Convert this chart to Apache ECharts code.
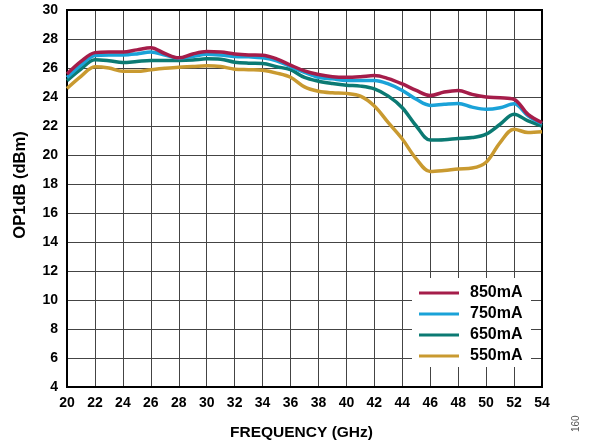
<!DOCTYPE html>
<html>
<head>
<meta charset="utf-8">
<script src="https://cdn.jsdelivr.net/npm/echarts@6/dist/echarts.min.js"></script>
<style>html,body{margin:0;padding:0;background:#fff}#c{width:591px;height:446px}</style>
</head>
<body>
<div id="c"></div>
<script>
var freq = [20,21,22,23,24,25,26,27,28,29,30,31,32,33,34,35,36,37,38,39,40,41,42,43,44,45,46,47,48,49,50,51,52,53,54];
var s850 = [25.58,26.45,27.06,27.1,27.1,27.25,27.4,27.0,26.7,26.97,27.13,27.1,26.97,26.9,26.88,26.63,26.2,25.8,25.55,25.4,25.36,25.4,25.48,25.27,24.9,24.45,24.1,24.34,24.45,24.18,24.0,23.95,23.84,22.8,22.23];
var s750 = [25.35,26.2,26.86,26.9,26.9,26.97,27.1,26.9,26.68,26.8,26.95,26.9,26.8,26.77,26.7,26.5,26.1,25.7,25.36,25.25,25.14,25.14,25.14,24.9,24.45,23.84,23.42,23.5,23.56,23.3,23.15,23.26,23.53,22.7,22.16];
var s650 = [25.13,25.93,26.57,26.5,26.38,26.45,26.52,26.52,26.52,26.55,26.63,26.6,26.4,26.33,26.31,26.09,25.88,25.35,25.09,24.93,24.81,24.75,24.56,24.06,23.26,22.0,21.03,21.05,21.14,21.2,21.44,22.12,22.81,22.35,22.0];
var s550 = [24.59,25.43,26.09,26.0,25.77,25.77,25.88,25.98,26.06,26.1,26.15,26.1,25.92,25.88,25.84,25.65,25.36,24.7,24.4,24.29,24.25,24.06,23.38,22.23,21.1,19.73,18.86,18.93,19.04,19.1,19.5,20.86,21.78,21.55,21.6];
var names = ['850mA','750mA','650mA','550mA'];
var colors = ['#a51d4a','#1aa2d8','#0b7a73','#c99a30'];
var xTicks = [20,22,24,26,28,30,32,34,36,38,40,42,44,46,48,50,52,54];
var yTicks = [4,6,8,10,12,14,16,18,20,22,24,26,28,30];

var font = 'Liberation Sans, Arial, sans-serif';
var chart = echarts.init(document.getElementById('c'));
function pairs(v){ return freq.map(function(f,i){return [f, v[i]];}); }
var seriesData = [s850, s750, s650, s550];
chart.setOption({
  animation: false,
  grid: {left: 67, top: 10, right: 49, bottom: 58, show: true, borderColor: '#000', borderWidth: 2, z: 1},
  xAxis: {
    type: 'value', min: xTicks[0], max: xTicks[xTicks.length-1], interval: 2,
    name: 'FREQUENCY (GHz)', nameLocation: 'middle', nameGap: 38,
    nameTextStyle: {fontFamily: font, fontWeight: 'bold', fontSize: 15.5, color: '#000', padding: [0,6,0,0]},
    axisLine: {show: true, lineStyle: {color: '#000', width: 2}},
    axisTick: {show: false},
    axisLabel: {fontFamily: font, fontWeight: 'bold', fontSize: 14, color: '#000', margin: 9},
    splitLine: {show: true, lineStyle: {color: '#444', width: 1}}
  },
  yAxis: {
    type: 'value', min: yTicks[0], max: yTicks[yTicks.length-1], interval: 2,
    axisLine: {show: true, lineStyle: {color: '#000', width: 2}},
    axisTick: {show: false},
    axisLabel: {fontFamily: font, fontWeight: 'bold', fontSize: 14, color: '#000', margin: 9},
    splitLine: {show: true, lineStyle: {color: '#444', width: 1}}
  },
  legend: {
    orient: 'vertical', left: 419, top: 285, itemWidth: 40, itemHeight: 3, itemGap: 5, padding: 0,
    icon: 'rect', z: 10,
    data: names,
    textStyle: {fontFamily: font, fontWeight: 'bold', fontSize: 16, color: '#000', padding: [0,0,0,6]}
  },
  graphic: [
    {type: 'rect', z: 5, shape: {x: 412, y: 278, width: 119, height: 89}, style: {fill: '#fff'}},
    {type: 'text', z: 5, x: 20, y: 185, rotation: Math.PI/2, style: {text: 'OP1dB (dBm)', font: 'bold 16.5px ' + font, fill: '#000', textAlign: 'center', textVerticalAlign: 'middle'}},
    {type: 'text', z: 5, x: 571, y: 432, rotation: Math.PI/2, style: {text: '160', font: '10px ' + font, fill: '#555'}}
  ],
  series: seriesData.map(function(v, i){
    return {
      name: names[i], type: 'line', data: pairs(v), smooth: 0.35, showSymbol: false,
      lineStyle: {color: colors[i], width: 3.5}, itemStyle: {color: colors[i]}, z: 10 - i
    };
  })
});
</script>
</body>
</html>
